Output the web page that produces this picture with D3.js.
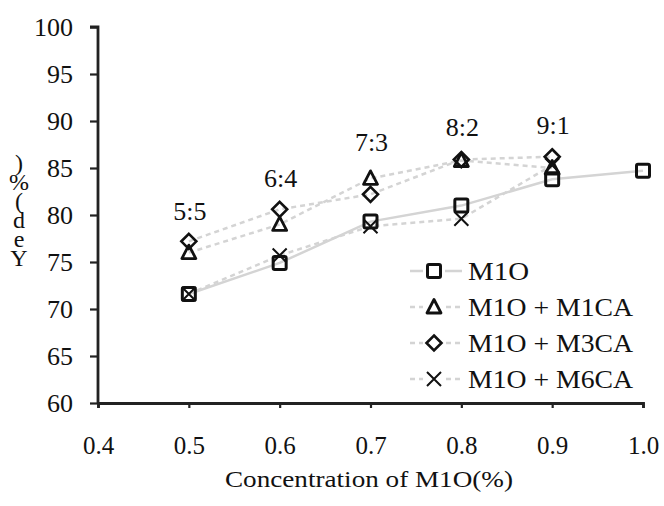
<!DOCTYPE html>
<html>
<head>
<meta charset="utf-8">
<script src="https://cdn.jsdelivr.net/npm/d3@7"></script>
<style>
  body { margin: 0; background: #fff; }
  text { font-family: "Liberation Serif", "Times New Roman", serif; fill: #111; }
</style>
</head>
<body>
<svg id="chart" width="664" height="506"></svg>
<script>
var concentrations = [0.5, 0.6, 0.7, 0.8, 0.9];
var ratioLabels = ['5:5', '6:4', '7:3', '8:2', '9:1'];
var ratioLabelY = [79.5, 83.0, 86.8, 88.4, 88.6];

var m1oX = [0.5, 0.6, 0.7, 0.8, 0.9, 1.0];
var m1o = [71.6, 74.9, 79.3, 81.0, 83.8, 84.7];
var m1ca = [76.0, 79.0, 83.9, 85.8, 85.0];
var m3ca = [77.2, 80.6, 82.2, 85.9, 86.2];
var m6ca = [71.6, 75.7, 78.8, 79.6, 85.3];

var xTicks = [0.4, 0.5, 0.6, 0.7, 0.8, 0.9, 1.0];
var yTicks = [60, 65, 70, 75, 80, 85, 90, 95, 100];

var svg = d3.select('#chart');
var x = d3.scaleLinear().domain([0.4, 1.0]).range([98, 643]);
var y = d3.scaleLinear().domain([60, 100]).range([403, 27]);

// axes
var yAxis = svg.append('g').attr('transform', 'translate(98,0)')
  .call(d3.axisLeft(y).tickValues(yTicks).tickSize(8).tickPadding(17).tickFormat(d3.format('d')));
var xAxis = svg.append('g').attr('transform', 'translate(0,403)')
  .call(d3.axisBottom(x).tickValues(xTicks).tickSize(5).tickPadding(28).tickFormat(d3.format('.1f')));
[yAxis, xAxis].forEach(function(a) {
  a.select('.domain').attr('stroke', '#222').attr('stroke-width', 2.8);
  a.selectAll('.tick line').attr('stroke', '#222').attr('stroke-width', 2.2);
  a.selectAll('.tick text').attr('fill', '#111')
    .style('font-family', '"Liberation Serif", serif');
});
yAxis.selectAll('.tick text').style('font-size', '26px');
xAxis.selectAll('.tick text').style('font-size', '25px');
// top cap of y axis
yAxis.select('.domain').attr('d', 'M-8,' + y(100) + 'H0V' + y(60));

var series = [
  {name: 'M1O', xs: m1oX, ys: m1o, shape: 'square', dash: null},
  {name: 'M1O + M1CA', xs: concentrations, ys: m1ca, shape: 'triangle', dash: '5,4'},
  {name: 'M1O + M3CA', xs: concentrations, ys: m3ca, shape: 'diamond', dash: '5,4'},
  {name: 'M1O + M6CA', xs: concentrations, ys: m6ca, shape: 'cross', dash: '5,4'}
];

function drawMarker(g, shape) {
  if (shape === 'square') {
    g.append('rect').attr('x', -6.5).attr('y', -6.5).attr('width', 13).attr('height', 13)
      .attr('rx', 1.5).attr('fill', 'none').attr('stroke', '#111').attr('stroke-width', 3);
  } else if (shape === 'triangle') {
    g.append('path').attr('d', 'M0,-7.5L7,6H-7Z')
      .attr('fill', 'none').attr('stroke', '#111').attr('stroke-width', 2.8).attr('stroke-linejoin', 'round');
  } else if (shape === 'diamond') {
    g.append('path').attr('d', 'M0,-7.5L7.5,0L0,7.5L-7.5,0Z')
      .attr('fill', 'none').attr('stroke', '#111').attr('stroke-width', 2.6);
  } else {
    g.append('path').attr('d', 'M-7,-7L7,7M7,-7L-7,7')
      .attr('fill', 'none').attr('stroke', '#111').attr('stroke-width', 2);
  }
}

var line = d3.line().x(function(d) { return x(d[0]); }).y(function(d) { return y(d[1]); });

series.forEach(function(s) {
  var pts = d3.zip(s.xs, s.ys);
  svg.append('path').datum(pts).attr('d', line)
    .attr('fill', 'none').attr('stroke', '#d4d4d4').attr('stroke-width', 2.5)
    .attr('stroke-dasharray', s.dash);
});
series.forEach(function(s) {
  d3.zip(s.xs, s.ys).forEach(function(p) {
    var g = svg.append('g').attr('transform', 'translate(' + x(p[0]) + ',' + y(p[1]) + ')');
    drawMarker(g, s.shape);
  });
});

// ratio labels
svg.selectAll('.ratio').data(concentrations).enter().append('text')
  .attr('x', function(d) { return x(d) + 1; })
  .attr('y', function(d, i) { return y(ratioLabelY[i]); })
  .attr('text-anchor', 'middle').style('font-size', '26px')
  .text(function(d, i) { return ratioLabels[i]; });

// legend
var legend = svg.append('g').attr('transform', 'translate(434,271)');
series.forEach(function(s, i) {
  var row = legend.append('g').attr('transform', 'translate(0,' + (i * 36) + ')');
  row.append('line').attr('x1', -24).attr('x2', 28).attr('stroke', '#d4d4d4')
    .attr('stroke-width', 2.5).attr('stroke-dasharray', s.dash);
  row.append('rect').attr('x', -11).attr('y', -11).attr('width', 22).attr('height', 22).attr('fill', '#fff');
  drawMarker(row, s.shape);
  row.append('text').attr('x', 34).attr('y', 9).style('font-size', '26px')
    .attr('textLength', s.name.length > 4 ? 165 : 61).attr('lengthAdjust', 'spacingAndGlyphs')
    .text(s.name);
});

// axis titles
svg.append('text').attr('x', 369).attr('y', 487).attr('text-anchor', 'middle')
  .style('font-size', '24px').attr('textLength', 288).attr('lengthAdjust', 'spacingAndGlyphs')
  .text('Concentration of M1O(%)');

// y title as printed: stacked glyphs, read bottom to top
var yTitle = ')%(deY';
svg.append('text').attr('x', 19).attr('y', 150)
  .style('writing-mode', 'vertical-rl').style('text-orientation', 'upright')
  .style('font-size', '24px').style('letter-spacing', '-7px')
  .text(yTitle);
</script>
</body>
</html>
